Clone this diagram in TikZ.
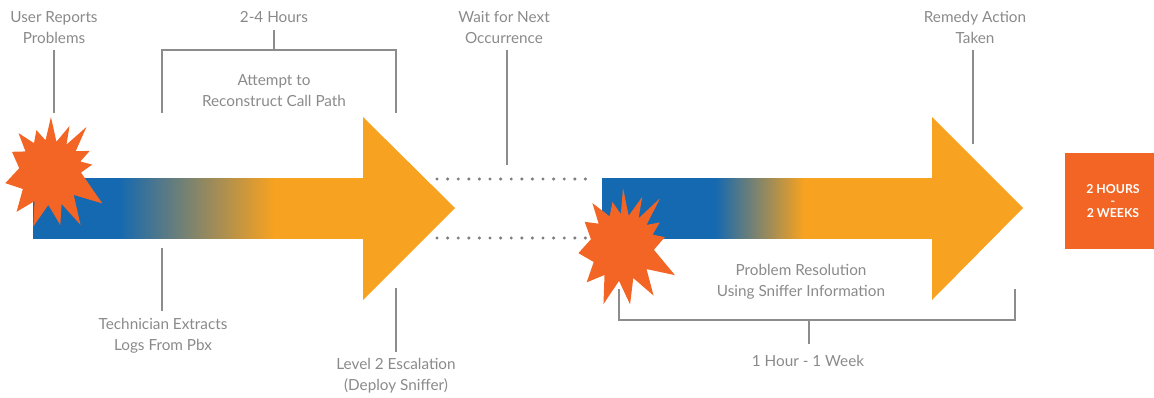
\documentclass[tikz,border=0pt]{standalone}
\usepackage{fontspec}
\setmainfont{Lato}
\definecolor{barblue}{HTML}{1569B0}
\definecolor{barorange}{HTML}{F7A220}
\definecolor{burst}{HTML}{F26524}
\definecolor{labelgray}{HTML}{8A8A8A}
\definecolor{linegray}{HTML}{8C8C8C}
% blue-to-orange fades for the two bars (path box maps to 25bp..75bp)
\pgfdeclarehorizontalshading{fadeA}{100bp}{color(0bp)=(barblue); color(38bp)=(barblue); color(61.4bp)=(barorange); color(100bp)=(barorange)}
\pgfdeclarehorizontalshading{fadeB}{100bp}{color(0bp)=(barblue); color(42.1bp)=(barblue); color(55.5bp)=(barorange); color(100bp)=(barorange)}
\begin{document}
\begin{tikzpicture}[x=1pt,y=-1pt,
  lbl/.style={text=labelgray, align=center, font=\fontsize{15.3}{21}\selectfont, inner sep=0pt},
  lead/.style={draw=linegray, line width=1.4pt},
  dotline/.style={draw=linegray!90!black, line width=3.4pt, line cap=round, dash pattern=on 0pt off 10.6pt},
  burstfill/.style={fill=burst},
  headfill/.style={fill=barorange}]
\useasboundingbox (0,0) rectangle (1154,398);

% ---- first arrow ----
\shade[shading=fadeA] (33,179) rectangle (364,239);
\fill[headfill] (363,117) -- (455,208) -- (363,300) -- cycle;

% ---- second arrow ----
\shade[shading=fadeB] (602,179) rectangle (933,239);
\fill[headfill] (932,117) -- (1023,208) -- (932,300) -- cycle;

% ---- bursts ----
\fill[burstfill, shift={(50,172)}]
  (-89:55) -- (-78:31) -- (-67:50) -- (-59:32) -- (-51:58) -- (-39:33) -- (-28:45) -- (-19:32)
  -- (-10:43) -- (1:31) -- (31:61) -- (44:33) -- (60:61) -- (70:34) -- (79:54) -- (93:33)
  -- (107:57) -- (118:33) -- (130:52) -- (148:32) -- (166:46) -- (187:31) -- (208:43) -- (220:32)
  -- (231:50) -- (241:33) -- (252:44) -- (262:32) -- cycle;
\fill[burstfill, shift={(622,247)}]
  (-89:59) -- (-78:32) -- (-68:54) -- (-60:33) -- (-52:62) -- (-42:33) -- (-33:45) -- (-22:33)
  -- (-13:44) -- (5:32) -- (28:60) -- (42:33) -- (57:58) -- (70:33) -- (82:58) -- (95:34)
  -- (108:60) -- (122:33) -- (135:50) -- (152:32) -- (172:44) -- (194:32) -- (214:45) -- (225:33)
  -- (236:53) -- (248:33) -- (258:46) -- (268:33) -- cycle;

% ---- dotted gap between the arrows ----
\coordinate (g1a) at (437,179);
\coordinate (g1b) at (586,179);
\coordinate (g2a) at (437,238);
\coordinate (g2b) at (586,238);
\draw[dotline] (g1a) -- (g1b);
\draw[dotline] (g2a) -- (g2b);

% ---- labels above ----
\node[lbl] (ur) at (54,27.5) {User Reports\\Problems};
\node[lbl] (hrs) at (274,17) {2-4 Hours};
\node[lbl] (att) at (274,90.5) {Attempt to\\Reconstruct Call Path};
\node[lbl] (wait) at (504,27.5) {Wait for Next\\Occurrence};
\node[lbl] (rem) at (975,27.5) {Remedy Action\\Taken};

% ---- labels below ----
\node[lbl] (tech) at (163,336) {Technician Extracts\\Logs From Pbx};
\node[lbl] (lvl) at (396,376) {Level 2 Escalation\\(Deploy Sniffer)};
\node[lbl] (res) at (801,282) {Problem Resolution\\Using Sniffer Information};
\node[lbl] (wk) at (808,361) {1 Hour - 1 Week};

% ---- leader lines ----
\coordinate (urT) at (54,50);   \coordinate (urB) at (54,113);
\draw[lead] (urT) -- (urB);
\coordinate (hT) at (274,30);   \coordinate (hB) at (274,50);
\draw[lead] (hT) -- (hB);
\coordinate (bL) at (162,113);  \coordinate (bLt) at (162,50);
\coordinate (bR) at (396,113);  \coordinate (bRt) at (396,50);
\draw[lead] (bL) -- (bLt) -- (bRt) -- (bR);
\coordinate (wT) at (507,50);   \coordinate (wB) at (507,165);
\draw[lead] (wT) -- (wB);
\coordinate (rT) at (973,50);   \coordinate (rB) at (973,144);
\draw[lead] (rT) -- (rB);
\coordinate (tT) at (162,248);  \coordinate (tB) at (162,311);
\draw[lead] (tT) -- (tB);
\coordinate (lT) at (396,288);  \coordinate (lB) at (396,352);
\draw[lead] (lT) -- (lB);
\coordinate (pL) at (619,289);  \coordinate (pLb) at (619,320);
\coordinate (pR) at (1015,289); \coordinate (pRb) at (1015,320);
\draw[lead] (pL) -- (pLb) -- (pRb) -- (pR);
\coordinate (pM) at (809,320);  \coordinate (pMb) at (809,344);
\draw[lead] (pM) -- (pMb);

% ---- total time box ----
\node[fill=burst, minimum width=89pt, minimum height=96pt, inner sep=0pt] (box) at (1109.5,201) {};
\node[text=white, align=center, inner sep=0pt, font=\fontsize{12.3}{12.2}\selectfont\bfseries] (tot) at (1113,201) {2 HOURS\\-\\2 WEEKS};
\end{tikzpicture}
\end{document}
